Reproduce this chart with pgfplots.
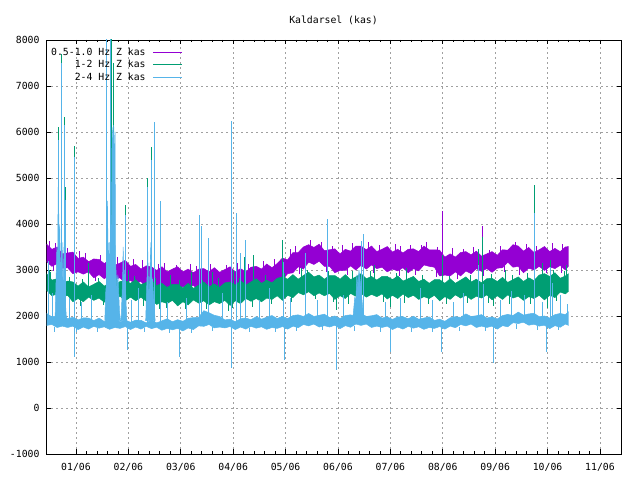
\documentclass[border=0pt]{standalone}
\usepackage{fontspec}
\setmainfont{DejaVu Sans Mono}
\usepackage{pgfplots}
\pgfplotsset{compat=1.18}
\usepackage{pgfplotstable}
\usepgfplotslibrary{fillbetween}
\definecolor{c1}{HTML}{9400D3}
\definecolor{c2}{HTML}{009E73}
\definecolor{c3}{HTML}{56B4E9}
\definecolor{gridc}{HTML}{A0A0A0}
\pgfplotstableread{
m PT PB GT GB BT BB
0.44 3560 3180 2920 2560 2055 1795
0.54 3450 3080 2780 2440 1980 1815
0.64 3500 3140 2810 2480 2005 1750
0.74 3350 3040 2700 2410 2020 1780
0.84 3370 3050 2760 2450 1945 1750
0.94 3390 2920 2740 2310 1970 1780
1.04 3250 2960 2650 2380 1915 1705
1.14 3280 2910 2740 2310 1960 1760
1.24 3180 2960 2630 2410 1955 1715
1.34 3240 2830 2690 2340 1900 1775
1.44 3230 2900 2750 2390 1955 1735
1.54 3140 2810 2650 2300 1880 1765
1.64 3220 2890 2720 2380 1915 1710
1.74 3100 2800 2650 2350 1950 1750
1.84 3150 2830 2750 2430 1875 1730
1.94 3210 2720 2770 2330 1910 1770
2.04 3080 2770 2710 2410 1865 1705
2.14 3120 2710 2790 2330 1910 1760
2.24 3020 2750 2680 2410 1905 1715
2.34 3090 2620 2730 2320 1850 1775
2.44 3070 2680 2780 2350 1915 1725
2.54 2990 2600 2660 2250 1850 1755
2.64 3070 2690 2710 2310 1895 1690
2.74 2960 2620 2620 2270 1940 1730
2.84 3020 2670 2690 2340 1875 1700
2.94 3070 2570 2690 2220 1920 1730
3.04 2960 2640 2610 2310 1885 1675
3.14 3020 2600 2710 2240 1950 1740
3.24 2940 2670 2600 2350 1965 1705
3.34 3020 2560 2670 2280 1970 1785
3.44 3030 2650 2740 2330 2115 1775
3.54 2960 2580 2630 2240 2070 1815
3.64 3050 2690 2700 2310 2015 1740
3.74 2950 2620 2620 2270 1990 1760
3.84 3010 2670 2720 2340 1915 1740
3.94 3070 2590 2740 2230 1930 1770
4.04 2960 2660 2670 2330 1875 1705
4.14 3030 2620 2770 2270 1940 1760
4.24 2960 2690 2670 2380 1955 1715
4.34 3060 2580 2740 2320 1920 1775
4.44 3080 2670 2810 2380 1985 1735
4.54 3020 2610 2710 2310 1930 1765
4.64 3130 2750 2780 2390 1975 1710
4.74 3050 2710 2720 2360 2010 1750
4.84 3140 2810 2820 2440 1945 1730
4.94 3260 2790 2850 2340 1990 1770
5.04 3220 2920 2800 2450 1945 1715
5.14 3380 2940 2900 2400 2010 1780
5.24 3380 3070 2800 2510 2025 1745
5.34 3500 3020 2880 2460 1990 1815
5.44 3550 3170 2950 2530 2055 1785
5.54 3490 3120 2850 2440 1990 1825
5.64 3560 3190 2890 2500 2015 1760
5.74 3420 3080 2800 2440 2040 1790
5.84 3440 3080 2880 2490 1965 1760
5.94 3460 2940 2880 2360 2000 1800
6.04 3350 2990 2800 2440 1945 1725
6.14 3450 2990 2900 2380 2010 1790
6.24 3410 3090 2790 2490 2025 1755
6.34 3520 3000 2850 2430 1990 1825
6.44 3520 3100 2920 2490 2055 1795
6.54 3440 3020 2810 2410 1990 1825
6.64 3520 3110 2860 2470 2005 1750
6.74 3400 3030 2780 2420 2030 1780
6.84 3450 3060 2860 2480 1955 1750
6.94 3510 2960 2860 2370 1980 1780
7.04 3390 3020 2790 2450 1925 1705
7.14 3450 2980 2870 2380 1980 1760
7.24 3370 3050 2760 2480 1985 1715
7.34 3450 2940 2810 2400 1940 1775
7.44 3460 3030 2860 2450 1995 1735
7.54 3400 2980 2750 2360 1930 1765
7.64 3520 3110 2800 2420 1955 1710
7.74 3440 3080 2710 2380 1980 1750
7.84 3440 3060 2790 2450 1905 1730
7.94 3430 2870 2790 2330 1930 1770
8.04 3280 2890 2710 2420 1885 1715
8.14 3350 2870 2810 2360 1960 1780
8.24 3280 2960 2710 2460 1985 1745
8.34 3380 2870 2780 2390 1970 1815
8.44 3400 2980 2850 2450 2045 1785
8.54 3330 2920 2740 2360 1990 1825
8.64 3410 3030 2800 2430 2005 1750
8.74 3300 2970 2720 2390 2030 1780
8.84 3350 3030 2810 2460 1955 1750
8.94 3400 2950 2820 2350 1980 1780
9.04 3320 3040 2750 2440 1935 1715
9.14 3440 3050 2840 2360 2010 1790
9.24 3430 3170 2730 2460 2035 1765
9.34 3550 3060 2790 2390 2010 1855
9.44 3520 3080 2850 2430 2085 1835
9.54 3410 2940 2750 2340 2020 1865
9.64 3490 3040 2830 2420 2045 1800
9.74 3380 3000 2770 2380 2060 1820
9.84 3440 3080 2890 2450 1985 1780
9.94 3510 2990 2920 2350 2000 1800
10.04 3400 3070 2860 2450 1955 1725
10.14 3470 3030 2940 2400 2030 1790
10.24 3400 3100 2820 2520 2055 1755
10.34 3500 3000 2870 2480 2030 1825
10.40 3510 3090 2920 2540 2095 1795
}\bands
\begin{document}
\begin{tikzpicture}
\begin{axis}[
  scale only axis, width=575bp, height=414bp,
  xmin=0.4275, xmax=11.401, ymin=-1000, ymax=8000,
  xtick={1,2,3,4,5,6,7,8,9,10,11},
  xticklabels={01/06,02/06,03/06,04/06,05/06,06/06,07/06,08/06,09/06,10/06,11/06},
  minor x tick num=4,
  ytick={-1000,0,1000,2000,3000,4000,5000,6000,7000,8000},
  yticklabels={-1000,0,1000,2000,3000,4000,5000,6000,7000,8000},
  grid=major,
  major grid style={gridc, dash pattern=on 2bp off 3bp, line width=0.8bp},
  tick style={black, line width=0.8bp},
  major tick length=4.5bp, minor tick length=2.5bp,
  axis line style={black, line width=0.8bp},
  font=\fontsize{9.8bp}{11bp}\selectfont,
  xticklabel style={yshift=-5.5bp},
  yticklabel style={xshift=-3bp},
  title={Kaldarsel (kas)},
  title style={at={(0.5,1)}, anchor=south, yshift=6bp},
  unbounded coords=jump,
  fill between/on layer=main,
  legend plot pos=right,
  legend cell align=right,
  legend image code/.code={\draw[#1] (0bp,0bp) -- (29bp,0bp);},
  legend style={draw=none, fill=none, at={(0,1)}, anchor=north west,
    xshift=5bp, yshift=-7bp, inner sep=0pt, row sep=2.5bp, column sep=7bp,
    nodes={inner sep=0pt, text height=8bp, text depth=2bp},
    font=\fontsize{9.8bp}{11bp}\selectfont},
]
% ---- 0.5-1.0 Hz
\addplot[c1, line width=0.5bp, name path=pt, forget plot] table[x=m,y=PT]{\bands};
\addplot[c1, line width=0.5bp, name path=pb, forget plot] table[x=m,y=PB]{\bands};
\addplot[c1, forget plot] fill between[of=pt and pb];
\addplot[c1, line width=0.8bp, forget plot] coordinates {
(1.586,3100) (1.586,5280) (1.586,nan)
(7.985,3300) (7.985,4283) (7.985,nan)
(8.748,3300) (8.748,3957) (8.748,nan)
(0.49,3300) (0.49,3620) (0.49,nan)
(0.61,3250) (0.61,3580) (0.61,nan)
(0.83,3170) (0.83,3470) (0.83,nan)
(1.07,3080) (1.07,3420) (1.07,nan)
(1.18,3050) (1.18,3360) (1.18,nan)
(1.47,2980) (1.47,3320) (1.47,nan)
(1.79,2950) (1.79,3280) (1.79,nan)
(2.09,2910) (2.09,3230) (2.09,nan)
(2.27,2870) (2.27,3210) (2.27,nan)
(2.58,2820) (2.58,3120) (2.58,nan)
(2.69,2810) (2.69,3150) (2.69,nan)
(2.91,2800) (2.91,3100) (2.91,nan)
(3.18,2800) (3.18,3140) (3.18,nan)
(3.29,2790) (3.29,3090) (3.29,nan)
(3.57,2790) (3.57,3130) (3.57,nan)
(3.87,2800) (3.87,3100) (3.87,nan)
(4.08,2810) (4.08,3150) (4.08,nan)
(4.29,2820) (4.29,3120) (4.29,nan)
(4.58,2860) (4.58,3200) (4.58,nan)
(4.79,2910) (4.79,3230) (4.79,nan)
(5.09,3110) (5.09,3450) (5.09,nan)
(5.19,3210) (5.19,3520) (5.19,nan)
(5.47,3320) (5.47,3650) (5.47,nan)
(5.69,3290) (5.69,3610) (5.69,nan)
(5.89,3210) (5.89,3520) (5.89,nan)
(6.09,3200) (6.09,3540) (6.09,nan)
(6.28,3280) (6.28,3590) (6.28,nan)
(6.58,3260) (6.58,3600) (6.58,nan)
(6.79,3250) (6.79,3550) (6.79,nan)
(7.09,3230) (7.09,3560) (7.09,nan)
(7.19,3225) (7.19,3520) (7.19,nan)
(7.39,3220) (7.39,3550) (7.39,nan)
(7.59,3240) (7.59,3540) (7.59,nan)
(7.69,3270) (7.69,3600) (7.69,nan)
(7.89,3200) (7.89,3500) (7.89,nan)
(8.19,3135) (8.19,3470) (8.19,nan)
(8.39,3150) (8.39,3450) (8.39,nan)
(8.59,3155) (8.59,3490) (8.59,nan)
(8.89,3140) (8.89,3440) (8.89,nan)
(9.09,3190) (9.09,3520) (9.09,nan)
(9.39,3300) (9.39,3610) (9.39,nan)
(9.59,3230) (9.59,3560) (9.59,nan)
(9.79,3230) (9.79,3530) (9.79,nan)
(10.09,3245) (10.09,3580) (10.09,nan)
(10.29,3260) (10.29,3560) (10.29,nan)
(0.57,3250) (0.57,2980) (0.57,nan)
(0.97,3110) (0.97,2850) (0.97,nan)
(1.37,3030) (1.37,2760) (1.37,nan)
(1.69,2970) (1.69,2700) (1.69,nan)
(2.17,2870) (2.17,2600) (2.17,nan)
(2.47,2800) (2.47,2550) (2.47,nan)
(2.87,2775) (2.87,2520) (2.87,nan)
(3.37,2770) (3.37,2500) (3.37,nan)
(3.77,2780) (3.77,2530) (3.77,nan)
(4.17,2790) (4.17,2530) (4.17,nan)
(4.47,2790) (4.47,2540) (4.47,nan)
(4.87,2940) (4.87,2660) (4.87,nan)
(5.27,3190) (5.27,2920) (5.27,nan)
(5.77,3230) (5.77,2950) (5.77,nan)
(6.17,3170) (6.17,2900) (6.17,nan)
(6.67,3195) (6.67,2930) (6.67,nan)
(7.17,3150) (7.17,2880) (7.17,nan)
(7.47,3150) (7.47,2890) (7.47,nan)
(7.87,3140) (7.87,2850) (7.87,nan)
(8.27,3060) (8.27,2800) (8.27,nan)
(8.77,3130) (8.77,2860) (8.77,nan)
(9.17,3230) (9.17,2960) (9.17,nan)
(9.47,3180) (9.47,2900) (9.47,nan)
(9.97,3195) (9.97,2930) (9.97,nan)
(10.27,3205) (10.27,2940)
};
% ---- 1-2 Hz
\addplot[c2, line width=0.5bp, name path=gt, forget plot] table[x=m,y=GT]{\bands};
\addplot[c2, line width=0.5bp, name path=gb, forget plot] table[x=m,y=GB]{\bands};
\addplot[c2, forget plot] fill between[of=gt and gb];
\addplot[c2, line width=0.8bp, forget plot] coordinates {
(0.656,2550) (0.656,6100) (0.656,nan)
(0.727,2550) (0.727,7700) (0.727,nan)
(0.777,2550) (0.777,6330) (0.777,nan)
(0.796,2550) (0.796,4800) (0.796,nan)
(0.968,2550) (0.968,5700) (0.968,nan)
(1.588,2550) (1.588,5200) (1.588,nan)
(1.680,2550) (1.680,8200) (1.680,nan)
(1.706,2550) (1.706,7500) (1.706,nan)
(1.935,2550) (1.935,4410) (1.935,nan)
(2.361,2550) (2.361,5000) (2.361,nan)
(2.431,2550) (2.431,5674) (2.431,nan)
(4.21,2550) (4.21,3290) (4.21,nan)
(4.39,2550) (4.39,3326) (4.39,nan)
(4.94,2550) (4.94,3652) (4.94,nan)
(7.985,2550) (7.985,3326) (7.985,nan)
(8.67,2550) (8.67,3460) (8.67,nan)
(8.748,2550) (8.748,3717) (8.748,nan)
(9.74,2550) (9.74,4848) (9.74,nan)
(10.06,2550) (10.06,3217) (10.06,nan)
(10.36,2550) (10.36,3110) (10.36,nan)
(0.50,2550) (0.50,3000) (0.50,nan)
(1.23,2550) (1.23,3150) (1.23,nan)
(2.00,2550) (2.00,3000) (2.00,nan)
(2.80,2550) (2.80,2900) (2.80,nan)
(3.20,2550) (3.20,2950) (3.20,nan)
(3.60,2550) (3.60,2950) (3.60,nan)
(4.00,2550) (4.00,3000) (4.00,nan)
(5.30,2550) (5.30,3050) (5.30,nan)
(6.70,2550) (6.70,3100) (6.70,nan)
(7.30,2550) (7.30,3050) (7.30,nan)
(9.20,2550) (9.20,3000) (9.20,nan)
(9.90,2550) (9.90,3150) (9.90,nan)
(0.52,2700) (0.52,2950) (0.52,nan)
(0.87,2600) (0.87,2850) (0.87,nan)
(1.12,2560) (1.12,2800) (1.12,nan)
(1.42,2560) (1.42,2820) (1.42,nan)
(1.77,2590) (1.77,2830) (1.77,nan)
(2.12,2610) (2.12,2860) (2.12,nan)
(2.52,2580) (2.52,2830) (2.52,nan)
(2.97,2520) (2.97,2780) (2.97,nan)
(3.42,2540) (3.42,2790) (3.42,nan)
(3.72,2560) (3.72,2820) (3.72,nan)
(4.12,2590) (4.12,2830) (4.12,nan)
(4.62,2640) (4.62,2890) (4.62,nan)
(4.97,2690) (4.97,2940) (4.97,nan)
(5.42,2760) (5.42,3010) (5.42,nan)
(5.82,2730) (5.82,2980) (5.82,nan)
(6.27,2720) (6.27,2980) (6.27,nan)
(6.62,2720) (6.62,2970) (6.62,nan)
(7.12,2690) (7.12,2940) (7.12,nan)
(7.62,2660) (7.62,2900) (7.62,nan)
(8.12,2630) (8.12,2880) (8.12,nan)
(8.52,2660) (8.52,2900) (8.52,nan)
(8.92,2660) (8.92,2910) (8.92,nan)
(9.32,2660) (9.32,2900) (9.32,nan)
(9.62,2680) (9.62,2940) (9.62,nan)
(10.12,2760) (10.12,3010) (10.12,nan)
(10.32,2740) (10.32,2980) (10.32,nan)
(0.47,2630) (0.47,2380) (0.47,nan)
(0.79,2540) (0.79,2290) (0.79,nan)
(1.09,2470) (1.09,2220) (1.09,nan)
(1.52,2470) (1.52,2230) (1.52,nan)
(1.89,2500) (1.89,2250) (1.89,nan)
(2.29,2460) (2.29,2210) (2.29,nan)
(2.72,2410) (2.72,2170) (2.72,nan)
(3.09,2400) (3.09,2160) (3.09,nan)
(3.49,2410) (3.49,2160) (3.49,nan)
(3.99,2410) (3.99,2170) (3.99,nan)
(4.37,2460) (4.37,2200) (4.37,nan)
(4.72,2500) (4.72,2250) (4.72,nan)
(5.12,2550) (5.12,2300) (5.12,nan)
(5.57,2610) (5.57,2370) (5.57,nan)
(5.92,2550) (5.92,2300) (5.92,nan)
(6.37,2570) (6.37,2320) (6.37,nan)
(6.87,2550) (6.87,2300) (6.87,nan)
(7.27,2540) (7.27,2290) (7.27,nan)
(7.72,2520) (7.72,2270) (7.72,nan)
(8.07,2520) (8.07,2270) (8.07,nan)
(8.47,2530) (8.47,2280) (8.47,nan)
(8.87,2530) (8.87,2290) (8.87,nan)
(9.27,2520) (9.27,2270) (9.27,nan)
(9.67,2520) (9.67,2270) (9.67,nan)
(10.17,2570) (10.17,2330) (10.17,nan)
(5.975,2500) (5.975,2130) (5.975,nan)
(8.964,2500) (8.964,2217) (8.964,nan)
(9.99,2500) (9.99,2174) (9.99,nan)
(1.30,2450) (1.30,2150) (1.30,nan)
(3.90,2450) (3.90,2100) (3.90,nan)
(2.60,2450) (2.60,2150) (2.60,nan)
(7.00,2450) (7.00,2200) (7.00,nan)
(6.20,2450) (6.20,2250)
};
% ---- 2-4 Hz
\addplot[c3, line width=0.5bp, name path=bt, forget plot] table[x=m,y=BT]{\bands};
\addplot[c3, line width=0.5bp, name path=bb, forget plot] table[x=m,y=BB]{\bands};
\addplot[c3, forget plot] fill between[of=bt and bb];
\addplot[c3, fill=c3, line width=0.5bp, forget plot] coordinates {(0.60,1900) (0.62,2800) (0.635,3500) (0.65,3100) (0.66,4800) (0.675,4000) (0.69,3900) (0.705,2900) (0.72,3200) (0.735,2700) (0.75,3600) (0.765,2800) (0.78,2600) (0.82,1900)} -- cycle;
\addplot[c3, fill=c3, line width=0.5bp, forget plot] coordinates {(1.55,1900) (1.57,2600) (1.58,2200) (1.60,4500) (1.615,3000) (1.63,3600) (1.645,2800) (1.66,4200) (1.675,3800) (1.69,6100) (1.705,5600) (1.72,6150) (1.735,5000) (1.745,6000) (1.755,3200) (1.78,2600) (1.80,2900) (1.83,2100) (1.85,1900)} -- cycle;
\addplot[c3, fill=c3, line width=0.5bp, forget plot] coordinates {(1.86,1900) (1.89,2800) (1.90,3500) (1.915,2700) (1.93,3000) (1.97,1900)} -- cycle;
\addplot[c3, fill=c3, line width=0.5bp, forget plot] coordinates {(2.33,1900) (2.37,3400) (2.385,2500) (2.40,2600) (2.43,3600) (2.445,2700) (2.46,2800) (2.51,1900)} -- cycle;
\addplot[c3, fill=c3, line width=0.5bp, forget plot] coordinates {(6.28,1900) (6.32,2400) (6.34,2300) (6.36,2900) (6.38,2600) (6.40,3000) (6.43,2700) (6.47,2200) (6.50,1900)} -- cycle;
\addplot[c3, line width=0.8bp, forget plot] coordinates {
(0.47,1850) (0.47,3200) (0.47,nan)
(0.662,1850) (0.662,5830) (0.662,nan)
(0.727,1850) (0.727,7500) (0.727,nan)
(0.777,1850) (0.777,6150) (0.777,nan)
(0.790,1850) (0.790,4520) (0.790,nan)
(0.968,1850) (0.968,5450) (0.968,nan)
(1.585,1850) (1.585,8200) (1.585,nan)
(1.660,1850) (1.660,8200) (1.660,nan)
(1.935,1850) (1.935,4200) (1.935,nan)
(2.361,1850) (2.361,4800) (2.361,nan)
(2.431,1850) (2.431,5400) (2.431,nan)
(2.494,1850) (2.494,6217) (2.494,nan)
(2.609,1850) (2.609,4500) (2.609,nan)
(3.347,1850) (3.347,4200) (3.347,nan)
(3.400,1850) (3.400,3950) (3.400,nan)
(3.519,1850) (3.519,3700) (3.519,nan)
(3.958,1850) (3.958,6240) (3.958,nan)
(4.067,1850) (4.067,4240) (4.067,nan)
(4.13,1850) (4.13,3370) (4.13,nan)
(4.225,1850) (4.225,3650) (4.225,nan)
(4.95,1850) (4.95,3170) (4.95,nan)
(5.38,1850) (5.38,3370) (5.38,nan)
(5.80,1850) (5.80,4110) (5.80,nan)
(6.44,1850) (6.44,3630) (6.44,nan)
(6.48,1850) (6.48,3780) (6.48,nan)
(7.57,1850) (7.57,2600) (7.57,nan)
(8.67,1850) (8.67,3110) (8.67,nan)
(8.77,1850) (8.77,2700) (8.77,nan)
(9.74,1850) (9.74,4240) (9.74,nan)
(10.05,1850) (10.05,3065) (10.05,nan)
(10.09,1850) (10.09,2720) (10.09,nan)
(0.55,1850) (0.55,2500) (0.55,nan)
(0.88,1850) (0.88,2400) (0.88,nan)
(1.10,1850) (1.10,2300) (1.10,nan)
(1.30,1850) (1.30,2450) (1.30,nan)
(2.05,1850) (2.05,2350) (2.05,nan)
(2.20,1850) (2.20,2600) (2.20,nan)
(2.75,1850) (2.75,2300) (2.75,nan)
(3.10,1850) (3.10,2400) (3.10,nan)
(3.80,1850) (3.80,2500) (3.80,nan)
(4.50,1850) (4.50,2350) (4.50,nan)
(4.70,1850) (4.70,2600) (4.70,nan)
(5.10,1850) (5.10,2400) (5.10,nan)
(5.60,1850) (5.60,2350) (5.60,nan)
(6.10,1850) (6.10,2450) (6.10,nan)
(6.90,1850) (6.90,2300) (6.90,nan)
(7.20,1850) (7.20,2400) (7.20,nan)
(7.80,1850) (7.80,2350) (7.80,nan)
(8.20,1850) (8.20,2300) (8.20,nan)
(8.40,1850) (8.40,2500) (8.40,nan)
(9.10,1850) (9.10,2350) (9.10,nan)
(9.30,1850) (9.30,2550) (9.30,nan)
(9.55,1850) (9.55,2450) (9.55,nan)
(9.90,1850) (9.90,2300) (9.90,nan)
(10.25,1850) (10.25,2450) (10.25,nan)
(10.38,1850) (10.38,2250) (10.38,nan)
(0.59,1760) (0.59,1660) (0.59,nan)
(1.01,1740) (1.01,1650) (1.01,nan)
(1.41,1740) (1.41,1660) (1.41,nan)
(2.31,1740) (2.31,1650) (2.31,nan)
(2.79,1720) (2.79,1640) (2.79,nan)
(3.21,1720) (3.21,1630) (3.21,nan)
(3.61,1760) (3.61,1670) (3.61,nan)
(4.31,1740) (4.31,1650) (4.31,nan)
(4.81,1740) (4.81,1660) (4.81,nan)
(5.21,1760) (5.21,1670) (5.21,nan)
(5.71,1780) (5.71,1690) (5.71,nan)
(6.31,1780) (6.31,1680) (6.31,nan)
(6.81,1750) (6.81,1660) (6.81,nan)
(7.41,1740) (7.41,1650) (7.41,nan)
(7.81,1740) (7.81,1660) (7.81,nan)
(8.31,1770) (8.31,1680) (8.31,nan)
(8.81,1760) (8.81,1670) (8.81,nan)
(9.41,1820) (9.41,1720) (9.41,nan)
(9.81,1780) (9.81,1690) (9.81,nan)
(10.21,1780) (10.21,1690) (10.21,nan)
(0.962,1800) (0.962,1110) (0.962,nan)
(1.973,1800) (1.973,1260) (1.973,nan)
(2.966,1800) (2.966,1110) (2.966,nan)
(3.971,1800) (3.971,870) (3.971,nan)
(4.975,1800) (4.975,1040) (4.975,nan)
(5.975,1800) (5.975,826) (5.975,nan)
(6.992,1800) (6.992,1217) (6.992,nan)
(7.979,1800) (7.979,1217) (7.979,nan)
(8.964,1800) (8.964,978) (8.964,nan)
(9.975,1800) (9.975,1217)
};
\addlegendimage{c1, line width=1bp}
\addlegendentry{0.5-1.0 Hz Z kas}
\addlegendimage{c2, line width=1bp}
\addlegendentry{1-2 Hz Z kas}
\addlegendimage{c3, line width=1bp}
\addlegendentry{2-4 Hz Z kas}
\end{axis}
\path ([shift={(-46bp,-26bp)}]current axis.south west) rectangle ([shift={(19bp,40bp)}]current axis.north east);
\end{tikzpicture}
\end{document}
